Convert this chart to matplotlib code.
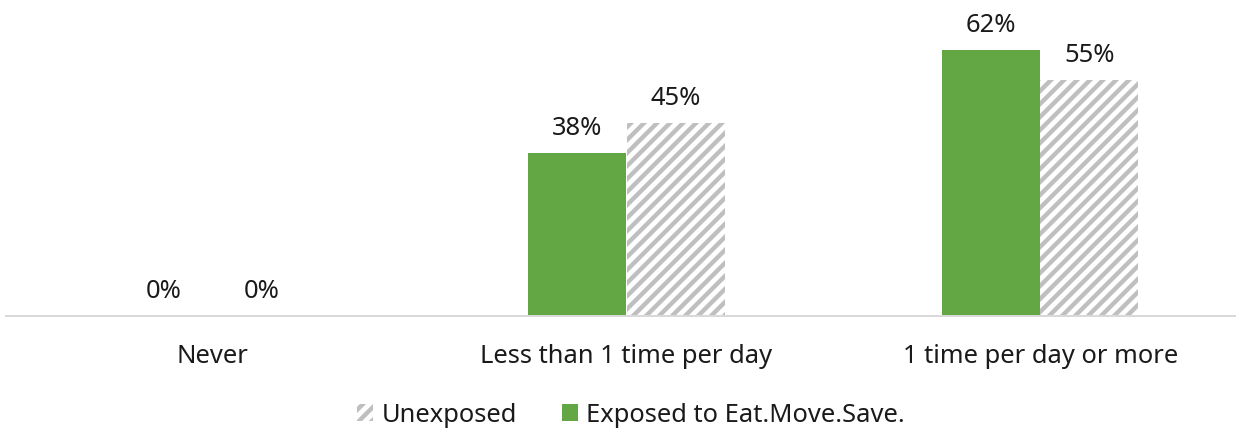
import matplotlib
matplotlib.use("Agg")
import matplotlib.pyplot as plt
from matplotlib.patches import Patch

# Data
categories = ["Never", "Less than 1 time per day", "1 time per day or more"]
exposed = [0, 38, 62]
unexposed = [0, 45, 55]
series_names = ["Unexposed", "Exposed to Eat.Move.Save."]

GREEN = "#63A745"
HATCH_GRAY = "#BFBFBF"
AXIS_GRAY = "#D9D9D9"
TEXT = "#1a1a1a"

W, H, DPI = 1236, 431, 78
PT = 72.0 / DPI  # points per pixel

plt.rcParams["font.family"] = ["Noto Sans", "DejaVu Sans"]
plt.rcParams["hatch.linewidth"] = 4.4 * PT

fig = plt.figure(figsize=(W / DPI, H / DPI), dpi=DPI)
left_px, right_px, base_px = 6, 1247, 316
ax = fig.add_axes([left_px / W, (H - base_px) / H, (right_px - left_px) / W, base_px / H])

px_per_pct = 4.29
ax.set_ylim(0, base_px / px_per_pct)
ax.set_xlim(-0.5, len(categories) - 0.5)

bw = 0.237
xs = list(range(len(categories)))
fs = 25.5 * PT

ax.bar([x - bw / 2 for x in xs], exposed, width=bw, color=GREEN, linewidth=0)
ax.bar([x + bw / 2 for x in xs], unexposed, width=bw, color="white",
       edgecolor=HATCH_GRAY, hatch="//", linewidth=0)

for x, v in zip(xs, exposed):
    ax.annotate(f"{v}%", (x - bw / 2, v), xytext=(0, 12 * PT), textcoords="offset points",
                ha="center", va="bottom", fontsize=fs, color=TEXT)
for x, v in zip(xs, unexposed):
    ax.annotate(f"{v}%", (x + bw / 2, v), xytext=(0, 12 * PT), textcoords="offset points",
                ha="center", va="bottom", fontsize=fs, color=TEXT)

for s in ["top", "left", "right"]:
    ax.spines[s].set_visible(False)
ax.spines["bottom"].set_color(AXIS_GRAY)
ax.spines["bottom"].set_linewidth(2 * PT)
ax.set_yticks([])
ax.set_xticks(xs)
ax.set_xticklabels(categories, fontsize=fs, color=TEXT)
ax.tick_params(axis="x", length=0, pad=28 * PT)

handles = [Patch(facecolor="white", edgecolor=HATCH_GRAY, hatch="//", linewidth=0),
           Patch(facecolor=GREEN, linewidth=0)]
fig.legend(handles, series_names, loc="center", bbox_to_anchor=(631 / W, 1 - 415 / H),
           ncol=2, frameon=False, fontsize=fs, handlelength=0.65, handleheight=0.65,
           handletextpad=0.32, columnspacing=1.75, borderpad=0, labelcolor=TEXT)

fig.savefig("out.png", dpi=DPI)
